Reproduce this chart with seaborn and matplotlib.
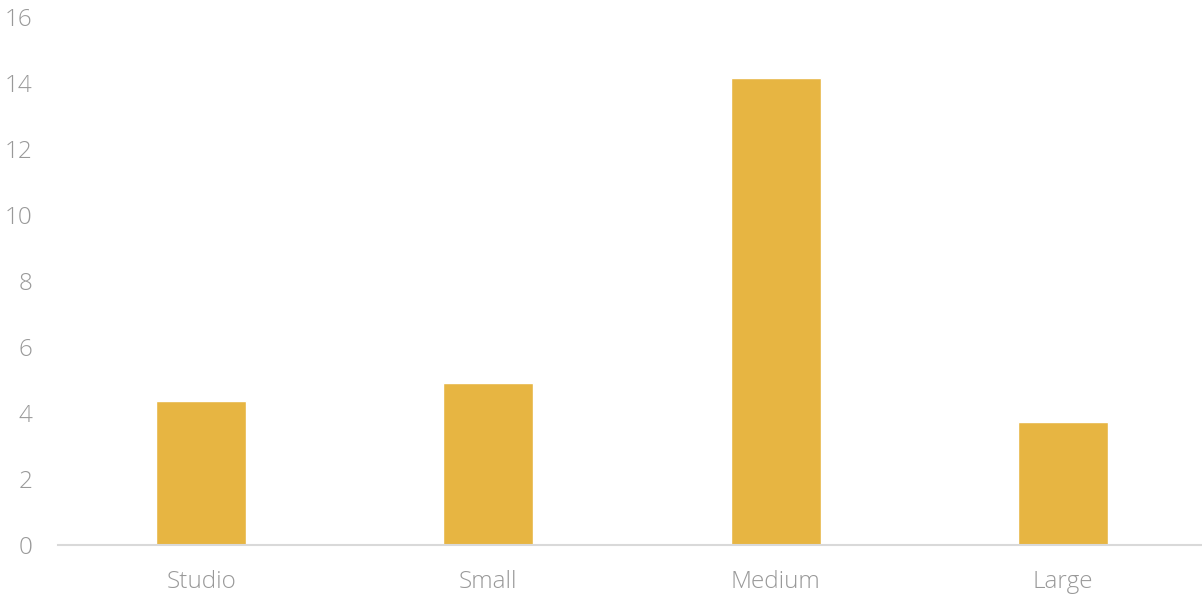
import matplotlib
matplotlib.use("Agg")
import matplotlib.pyplot as plt
import seaborn as sns
import pandas as pd

categories = ["Studio", "Small", "Medium", "Large"]
values = [4.36, 4.90, 14.15, 3.73]
y_ticks = [0, 2, 4, 6, 8, 10, 12, 14, 16]

bar_color = "#E7B542"
text_color = "#999999"

sns.set_theme(style="white")
plt.rcParams["font.family"] = ["Open Sans", "DejaVu Sans"]

df = pd.DataFrame({"category": categories, "value": values})

fig = plt.figure(figsize=(12.02, 5.96), dpi=100)
ax = fig.add_axes([57.5 / 1202, 51 / 596, 1149 / 1202, 528 / 596])

sns.barplot(data=df, x="category", y="value", color=bar_color,
            width=0.314, saturation=1, ax=ax)

ax.set_xlim(-0.5, 3.5)
ax.set_ylim(0, 16)
ax.set_yticks(y_ticks)
ax.set_yticklabels([str(t) for t in y_ticks])
ax.set_xlabel("")
ax.set_ylabel("")

for side in ["top", "right", "left"]:
    ax.spines[side].set_visible(False)
ax.spines["bottom"].set_color("#D9D9D9")
ax.spines["bottom"].set_linewidth(1.5)

ax.tick_params(axis="y", length=0, pad=18, labelsize=17.5, labelcolor=text_color)
ax.tick_params(axis="x", length=0, pad=18, labelsize=17.5, labelcolor=text_color)
for lab in ax.get_xticklabels() + ax.get_yticklabels():
    lab.set_fontweight("light")

fig.savefig("out.png", dpi=100)
